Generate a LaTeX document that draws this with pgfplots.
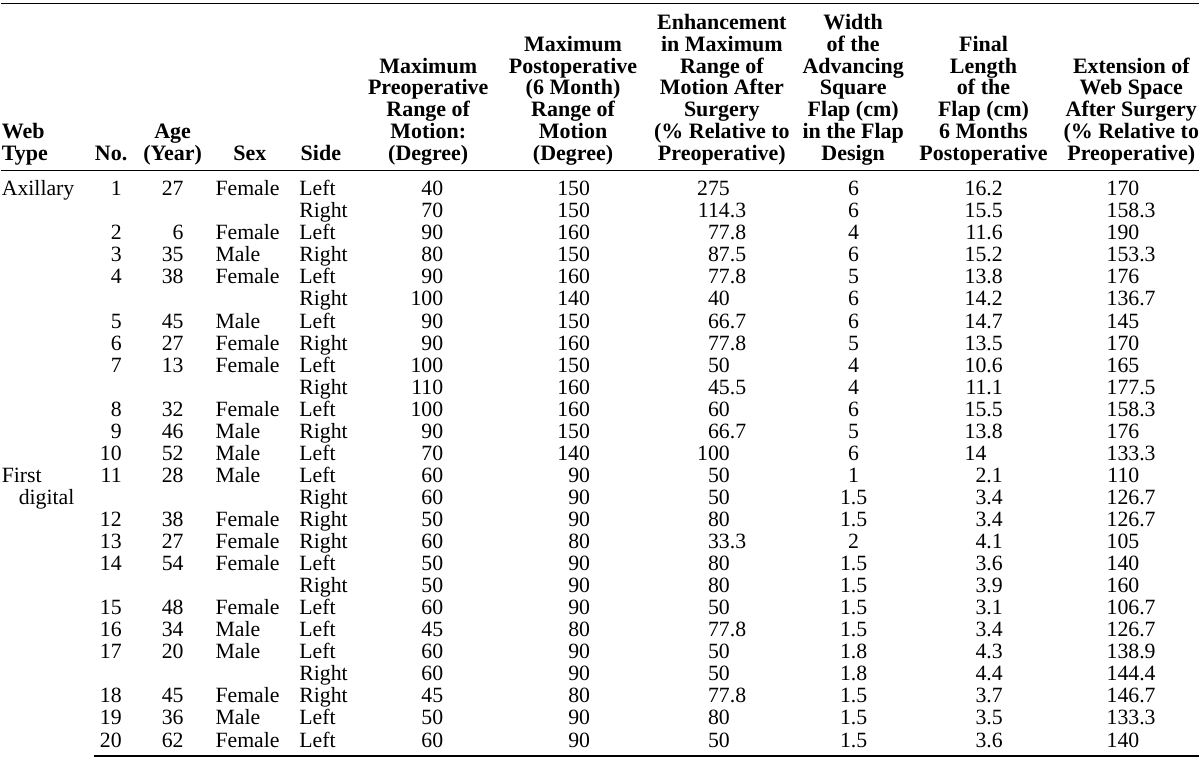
\documentclass[border=0pt]{standalone}
\usepackage{pgfplots}
\pgfplotsset{compat=1.18}
\usepackage{pgfplotstable}
\usepackage{fontspec}
\setmainfont{Liberation Serif}
\newcommand\bodyfont{\fontsize{21.8}{26}\selectfont}
\newcommand\headfont{\bfseries\fontsize{22}{26}\selectfont}

\pgfplotstableread[col sep=comma]{
r,no,age,sex,side,enhf,finf,extf,enhi,wid,fini,exti,post,pre
0,1,27,Female,Left,,.2,,275,6,16,170,150,40
1,,,,Right,.3,.5,.3,114,6,15,158,150,70
2,2,6,Female,Left,.8,.6,,77,4,11,190,160,90
3,3,35,Male,Right,.5,.2,.3,87,6,15,153,150,80
4,4,38,Female,Left,.8,.8,,77,5,13,176,160,90
5,,,,Right,,.2,.7,40,6,14,136,140,100
6,5,45,Male,Left,.7,.7,,66,6,14,145,150,90
7,6,27,Female,Right,.8,.5,,77,5,13,170,160,90
8,7,13,Female,Left,,.6,,50,4,10,165,150,100
9,,,,Right,.5,.1,.5,45,4,11,177,160,110
10,8,32,Female,Left,,.5,.3,60,6,15,158,160,100
11,9,46,Male,Right,.7,.8,,66,5,13,176,150,90
12,10,52,Male,Left,,,.3,100,6,14,133,140,70
13,11,28,Male,Left,,.1,,50,1,2,110,90,60
14,,,,Right,,.4,.7,50,1.5,3,126,90,60
15,12,38,Female,Right,,.4,.7,80,1.5,3,126,90,50
16,13,27,Female,Right,.3,.1,,33,2,4,105,80,60
17,14,54,Female,Left,,.6,,80,1.5,3,140,90,50
18,,,,Right,,.9,,80,1.5,3,160,90,50
19,15,48,Female,Left,,.1,.7,50,1.5,3,106,90,60
20,16,34,Male,Left,.8,.4,.7,77,1.5,3,126,80,45
21,17,20,Male,Left,,.3,.9,50,1.8,4,138,90,60
22,,,,Right,,.4,.4,50,1.8,4,144,90,60
23,18,45,Female,Right,.8,.7,.7,77,1.5,3,146,80,45
24,19,36,Male,Left,,.5,.3,80,1.5,3,133,90,50
25,20,62,Female,Left,,.6,,50,1.5,3,140,90,60
}\body

\pgfplotstableread[col sep=comma]{
x,k,label
110.5,0,No.
172,1,Age
172,0,(Year)
249.5,0,Sex
320.5,0,Side
428,4,Maximum
428,3,Preoperative
428,2,Range of
428,1,Motion:
428,0,(Degree)
573,5,Maximum
573,4,Postoperative
573,3,(6 Month)
573,2,Range of
573,1,Motion
573,0,(Degree)
722,6,Enhancement
722,5,in Maximum
722,4,Range of
722,3,Motion After
722,2,Surgery
722,1,(\% Relative to
722,0,Preoperative)
853.5,6,Width
853.5,5,of the
853.5,4,Advancing
853.5,3,Square
853.5,2,Flap (cm)
853.5,1,in the Flap
853.5,0,Design
984,5,Final
984,4,Length
984,3,of the
984,2,Flap (cm)
984,1,6 Months
984,0,Postoperative
1132,4,Extension of
1132,3,Web Space
1132,2,After Surgery
1132,1,(\% Relative to
1132,0,Preoperative)
}\head

\pgfplotsset{
  cell/.style={only marks, mark=*, mark size=0pt, mark options={draw=none,fill=none},
    point meta=explicit symbolic, nodes near coords,
    every node near coord/.style={anchor=#1, inner sep=0pt, outer sep=0pt, text=black, font=\bodyfont}},
  hcell/.style={only marks, mark=*, mark size=0pt, mark options={draw=none,fill=none},
    point meta=explicit symbolic, nodes near coords,
    every node near coord/.style={anchor=#1, inner sep=0pt, outer sep=0pt, text=black, font=\headfont}},
}

\begin{document}
\begin{tikzpicture}
\begin{axis}[x=1pt, y=1pt, xmin=0, xmax=1200, ymin=0, ymax=760, y dir=reverse,
  hide axis, clip=false]
\addplot[draw=none, mark=none] coordinates {(0,0) (1200,760)};
% rules
\addplot[black, line width=1.6pt, mark=none] coordinates {(0,3.5) (1200,3.5)};
\addplot[black, line width=1pt, mark=none] coordinates {(0,170.5) (1200,170.5)};
\addplot[black, line width=1.5pt, mark=none] coordinates {(93,757) (1200,757)};
% header
\addplot[hcell=base west] coordinates {(1,138.7) [Web] (1,160.5) [Type]};
\addplot[hcell=base] table[x=x, y expr=160.5-21.8*\thisrow{k}, meta=label]{\head};
% body
\addplot[cell=base west] coordinates {(1,196) [Axillary] (1,483.04) [First]};
\addplot[cell=base west] coordinates {(18,505.12) [digital]};
\addplot[cell=base east] table[x expr=121, y expr=196+22.08*\coordindex, meta=no]{\body};
\addplot[cell=base east] table[x expr=183, y expr=196+22.08*\coordindex, meta=age]{\body};
\addplot[cell=base west] table[x expr=215, y expr=196+22.08*\coordindex, meta=sex]{\body};
\addplot[cell=base west] table[x expr=299, y expr=196+22.08*\coordindex, meta=side]{\body};
\addplot[cell=base east] table[x expr=443, y expr=196+22.08*\coordindex, meta=pre]{\body};
\addplot[cell=base east] table[x expr=590, y expr=196+22.08*\coordindex, meta=post]{\body};
\addplot[cell=base east] table[x expr=730, y expr=196+22.08*\coordindex, meta=enhi]{\body};
\addplot[cell=base west] table[x expr=730, y expr=196+22.08*\coordindex, meta=enhf]{\body};
\addplot[cell=base] table[x expr=854, y expr=196+22.08*\coordindex, meta=wid]{\body};
\addplot[cell=base east] table[x expr=987, y expr=196+22.08*\coordindex, meta=fini]{\body};
\addplot[cell=base west] table[x expr=987, y expr=196+22.08*\coordindex, meta=finf]{\body};
\addplot[cell=base east] table[x expr=1140, y expr=196+22.08*\coordindex, meta=exti]{\body};
\addplot[cell=base west] table[x expr=1140, y expr=196+22.08*\coordindex, meta=extf]{\body};
\end{axis}
\end{tikzpicture}
\end{document}
